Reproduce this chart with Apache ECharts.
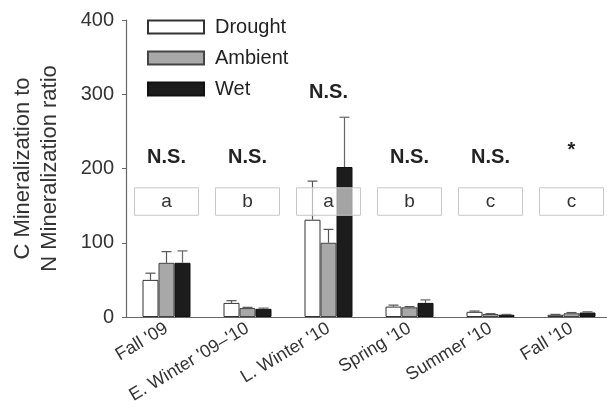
<!DOCTYPE html>
<html><head><meta charset="utf-8">
<script src="https://cdn.jsdelivr.net/npm/echarts@6/dist/echarts.min.js"></script>
<style>html,body{margin:0;padding:0;background:#fff}#c{width:607px;height:412px}</style>
</head><body><div id="c"></div>
<script>
const categories = ["Fall '09", "E. Winter '09–'10", "L. Winter '10", "Spring '10", "Summer '10", "Fall '10"];
const drought = [50, 19, 131, 14, 7, 3];
const droughtErr = [9, 3, 52, 2, 1, 0.5];
const ambient = [73, 12, 100, 13, 4, 5];
const ambientErr = [15, 1, 18, 1, 0.5, 1];
const wet = [73, 11, 202, 19, 3, 6];
const wetErr = [16, 1, 67, 4, 0.5, 1];
const sigLabels = ["N.S.", "N.S.", "N.S.", "N.S.", "N.S.", "*"];
const sigValues = [215, 215, 303, 215, 215, 224];
const letters = ["a", "b", "a", "b", "c", "c"];
const letterBoxTop = 174;
const letterBoxBottom = 137;
const yTicks = [0, 100, 200, 300, 400];

const FONT = 'Liberation Sans, Arial, sans-serif';
const chart = echarts.init(document.getElementById('c'));
const BW = 16;

function errSeries(vals, errs, offset, color) {
  return {
    type: 'custom', z: 5,
    data: vals.map((v, i) => [i, v, v + errs[i]]),
    renderItem: function (params, api) {
      const p0 = api.coord([api.value(0), api.value(1)]);
      const p1 = api.coord([api.value(0), api.value(2)]);
      const x = p0[0] + offset;
      return {
        type: 'group', children: [
          { type: 'line', shape: { x1: x, y1: p0[1], x2: x, y2: p1[1] }, style: { stroke: color, lineWidth: 1.2 } },
          { type: 'line', shape: { x1: x - 5, y1: p1[1], x2: x + 5, y2: p1[1] }, style: { stroke: color, lineWidth: 1.2 } }
        ]
      };
    }
  };
}

chart.setOption({
  animation: false,
  grid: { left: 126, top: 20, width: 486, height: 297, containLabel: false, outerBoundsMode: 'none' },
  legend: {
    data: ['Drought', 'Ambient', 'Wet'],
    orient: 'vertical', left: 142, top: 12,
    itemWidth: 56, itemHeight: 13, itemGap: 11,
    textStyle: { fontSize: 20, color: '#222', fontFamily: FONT, padding: [0, 0, 0, 6] },
    icon: 'rect'
  },
  xAxis: {
    type: 'category', data: categories,
    axisTick: { show: false },
    axisLine: { lineStyle: { color: '#666', width: 1.2 } },
    axisLabel: { rotate: 31, fontSize: 18, color: '#333', margin: 10, interval: 0, fontFamily: FONT }
  },
  yAxis: {
    type: 'value', min: yTicks[0], max: yTicks[yTicks.length - 1], interval: 100,
    splitLine: { show: false },
    axisLine: { show: true, lineStyle: { color: '#666', width: 1.2 } },
    axisTick: { show: true, length: 4, lineStyle: { color: '#666' } },
    axisLabel: { fontSize: 20, color: '#333', margin: 12, fontFamily: FONT },
    name: 'C Mineralization to\nN Mineralization ratio',
    nameLocation: 'middle', nameRotate: 90, nameGap: 63,
    nameTextStyle: { fontSize: 22, color: '#333', lineHeight: 27, fontFamily: FONT }
  },
  series: [
    { name: 'Drought', type: 'bar', data: drought, barWidth: BW, barGap: '0%',
      itemStyle: { color: '#fff', borderColor: '#333', borderWidth: 1 } },
    { name: 'Ambient', type: 'bar', data: ambient, barWidth: BW,
      itemStyle: { color: '#a8a8a8', borderColor: '#444', borderWidth: 1 } },
    { name: 'Wet', type: 'bar', data: wet, barWidth: BW,
      itemStyle: { color: '#1c1c1c', borderColor: '#111', borderWidth: 1 } },
    errSeries(drought, droughtErr, -BW, '#555'),
    errSeries(ambient, ambientErr, 0, '#555'),
    errSeries(wet, wetErr, BW, '#666'),
    {
      type: 'custom', z: 10,
      data: letters.map((l, i) => [i, letterBoxTop, letterBoxBottom]),
      renderItem: function (params, api) {
        const t = api.coord([api.value(0), api.value(1)]);
        const b = api.coord([api.value(0), api.value(2)]);
        return {
          type: 'group', children: [
            { type: 'rect', shape: { x: t[0] - 32, y: t[1], width: 64, height: b[1] - t[1] },
              style: { fill: 'rgba(255,255,255,0.6)', stroke: '#c8c8c8', lineWidth: 1 } },
            { type: 'text', style: { text: letters[params.dataIndex], x: t[0], y: (t[1] + b[1]) / 2,
              align: 'center', verticalAlign: 'middle', fontSize: 19, fill: '#333', fontFamily: FONT } }
          ]
        };
      }
    },
    {
      type: 'custom', z: 10,
      data: sigLabels.map((s, i) => [i, sigValues[i]]),
      renderItem: function (params, api) {
        const p = api.coord([api.value(0), api.value(1)]);
        return { type: 'text', style: { text: sigLabels[params.dataIndex], x: p[0], y: p[1],
          align: 'center', verticalAlign: 'middle', fontSize: 20, fontWeight: 'bold', fill: '#222', fontFamily: FONT } };
      }
    }
  ]
});
</script></body></html>
